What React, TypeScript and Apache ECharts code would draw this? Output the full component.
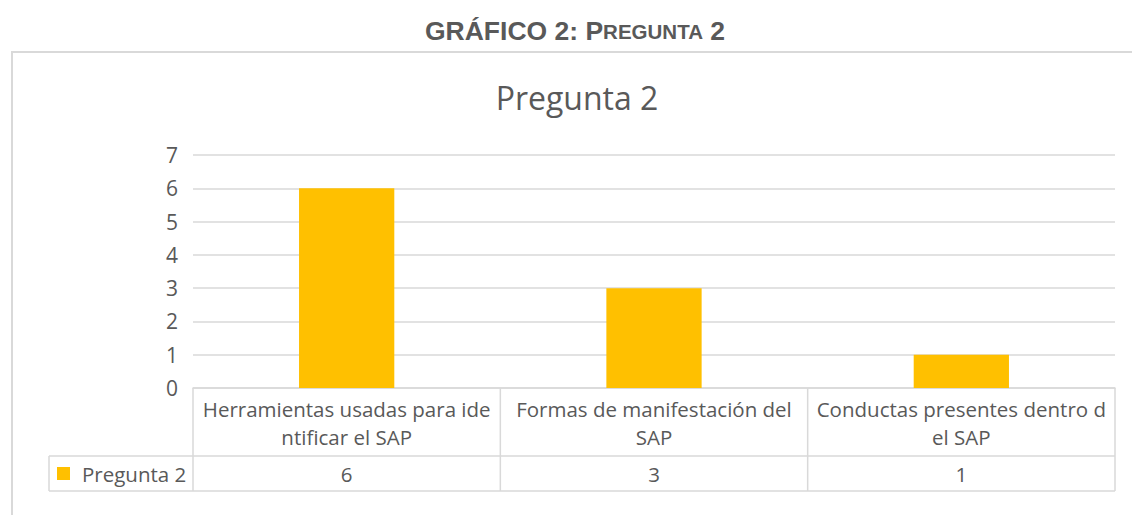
import React, { useEffect, useRef } from "react";
import * as echarts from "echarts";

const categories = [
  "Herramientas usadas para identificar el SAP",
  "Formas de manifestación del SAP",
  "Conductas presentes dentro del SAP",
];
const categoryLabels = [
  "Herramientas usadas para ide\nntificar el SAP",
  "Formas de manifestación del\nSAP",
  "Conductas presentes dentro d\nel SAP",
];
const seriesName = "Pregunta 2";
const values = [6, 3, 1];
const yTicks = [0, 1, 2, 3, 4, 5, 6, 7];

const W = 1132;
const H = 515;
const GL = 193;
const GR = 1115;
const GT = 155;
const GB = 388;
const ROW1 = 456;
const ROW2 = 491;
const LEG_L = 49;
const TEXT = "#595959";
const LINE = "#d9d9d9";
const FONT = "'Open Sans', sans-serif";

export default function App() {
  const ref = useRef<HTMLDivElement>(null);
  useEffect(() => {
    document.body.style.margin = "0";
    const chart = echarts.init(ref.current!, null, { renderer: "svg" });
    const colW = (GR - GL) / categories.length;
    const lines: any[] = [];
    const ln = (x1: number, y1: number, x2: number, y2: number) =>
      lines.push({
        type: "line",
        shape: { x1, y1, x2, y2 },
        style: { stroke: LINE, lineWidth: 1.5 },
        silent: true,
      });
    ln(LEG_L, ROW1, GR, ROW1);
    ln(LEG_L, ROW2, GR, ROW2);
    ln(LEG_L, ROW1, LEG_L, ROW2);
    for (let i = 0; i <= categories.length; i++) {
      ln(GL + i * colW, GB, GL + i * colW, ROW2);
    }
    const HFONT = "'Liberation Sans', Arial, sans-serif";
    chart.setOption({
      animation: false,
      backgroundColor: "#ffffff",
      grid: { left: GL, right: W - GR, top: GT, bottom: H - GB },
      graphic: [
        {
          type: "text",
          x: 575,
          y: 31,
          style: {
            text: "{a|GRÁFICO 2: P}{b|REGUNTA}{a| 2}",
            align: "center",
            verticalAlign: "middle",
            rich: {
              a: { fontSize: 26.5, fontWeight: "bold", fill: TEXT, fontFamily: HFONT },
              b: { fontSize: 20.5, fontWeight: "bold", fill: TEXT, fontFamily: HFONT },
            },
          },
        },
        {
          type: "rect",
          shape: { x: 12, y: 52, width: 1130, height: 520 },
          style: { fill: "none", stroke: LINE, lineWidth: 2 },
          silent: true,
        },
        ...lines,
        {
          type: "rect",
          shape: { x: 57, y: 467, width: 13, height: 13 },
          style: { fill: "#FFC000" },
        },
        {
          type: "text",
          x: 82,
          y: 474,
          style: {
            text: seriesName,
            fontSize: 20.5,
            fontFamily: FONT,
            fill: TEXT,
            verticalAlign: "middle",
          },
        },
        {
          type: "text",
          x: 577,
          y: 97,
          style: {
            text: "Pregunta 2",
            fontSize: 32,
            fontFamily: FONT,
            fill: TEXT,
            align: "center",
            verticalAlign: "middle",
          },
        },
      ],
      xAxis: [
        {
          type: "category",
          data: categories,
          axisLine: { lineStyle: { color: LINE, width: 1.5 } },
          axisTick: { show: false },
          axisLabel: {
            margin: 7,
            fontSize: 20.5,
            lineHeight: 28,
            color: TEXT,
            fontFamily: FONT,
            interval: 0,
            formatter: (_v: string, i: number) => categoryLabels[i],
          },
        },
        {
          type: "category",
          position: "bottom",
          offset: ROW1 - GB,
          data: values.map(String),
          axisLine: { show: false },
          axisTick: { show: false },
          axisLabel: { margin: 7, fontSize: 20.5, color: TEXT, fontFamily: FONT, interval: 0 },
        },
      ],
      yAxis: {
        type: "value",
        min: yTicks[0],
        max: yTicks[yTicks.length - 1],
        interval: 1,
        axisLine: { show: false },
        axisTick: { show: false },
        splitLine: { lineStyle: { color: LINE, width: 1.5 } },
        axisLabel: { fontSize: 21, color: TEXT, fontFamily: FONT, margin: 15 },
      },
      series: [
        {
          name: seriesName,
          type: "bar",
          data: values,
          barWidth: "31%",
          itemStyle: { color: "#FFC000" },
        },
      ],
    });
    return () => chart.dispose();
  }, []);
  return <div ref={ref} style={{ width: W, height: H, position: "absolute", left: 0, top: 0 }} />;
}
